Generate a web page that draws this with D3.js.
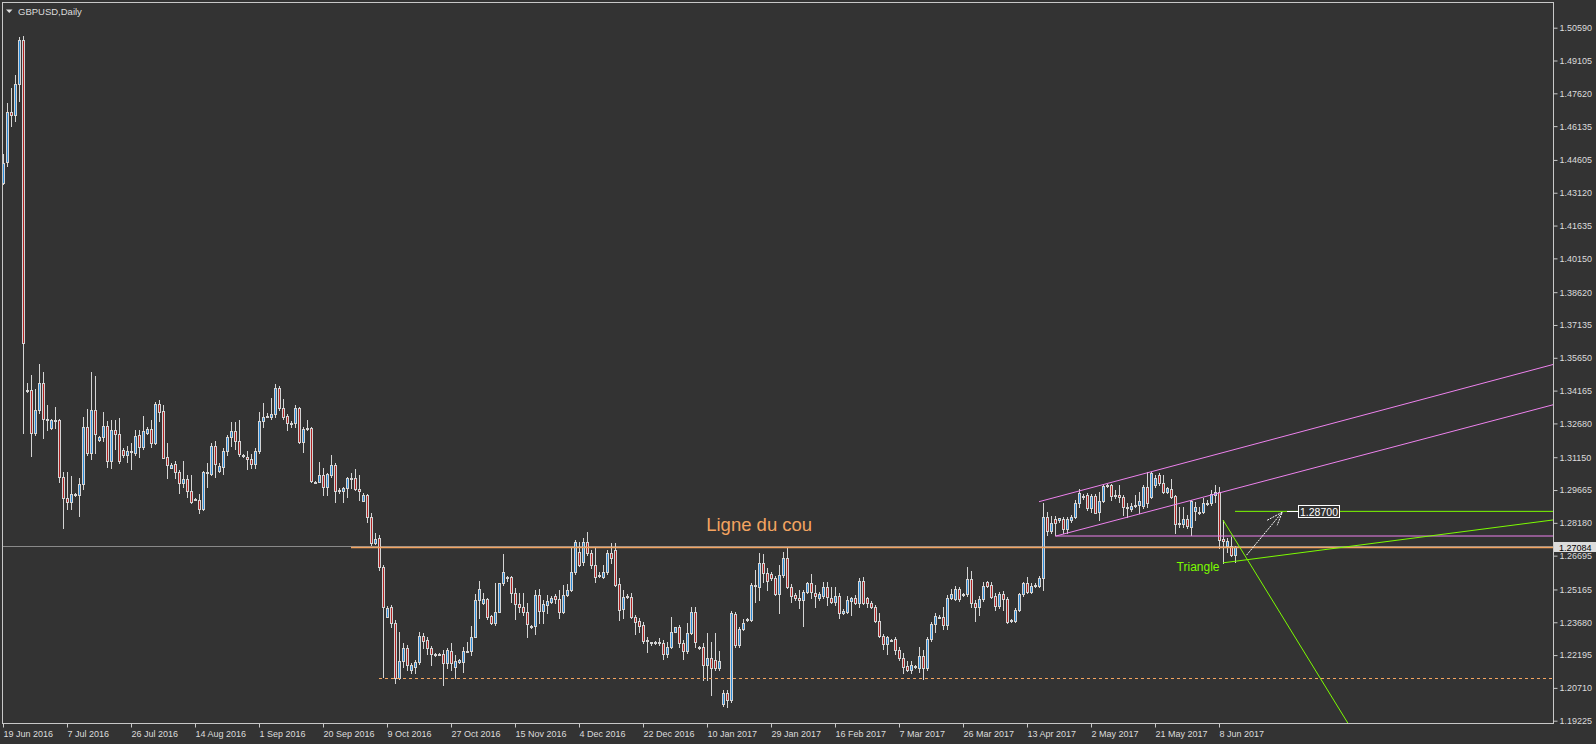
<!DOCTYPE html>
<html><head><meta charset="utf-8">
<script src="https://cdn.jsdelivr.net/npm/d3@7"></script>
<style>html,body{margin:0;padding:0;background:#333333;overflow:hidden}</style>
</head><body>
<svg id="c" width="1596" height="744"></svg>
<script>
// ---- DATA (GBPUSD Daily, one bar per trading day) ----
const opens=[1.4355,1.4450,1.4676,1.4662,1.4803,1.5003,1.3415,1.3419,1.3226,1.3329,
1.3450,1.3290,1.3246,1.3283,1.3283,1.3024,1.2929,1.2914,1.2947,1.2943,
1.2992,1.3252,1.3135,1.3329,1.3193,1.3205,1.3256,1.3099,1.3238,1.3220,
1.3148,1.3127,1.3139,1.3135,1.3216,1.3163,1.3223,1.3243,1.3181,1.3356,
1.3324,1.3115,1.3068,1.3083,1.3047,1.2997,1.3016,1.2961,1.2926,1.2921,
1.2882,1.3047,1.3039,1.3166,1.3054,1.3072,1.3143,1.3205,1.3234,1.3188,
1.3123,1.3115,1.3107,1.3083,1.3143,1.3278,1.3301,1.3298,1.3311,1.3427,
1.3336,1.3302,1.3272,1.3269,1.3336,1.3185,1.3245,1.3246,1.3003,1.3004,
1.3035,1.2982,1.3035,1.3080,1.2965,1.2963,1.2974,1.3019,1.3020,1.2973,
1.2918,1.2944,1.2843,1.2728,1.2748,1.2617,1.2393,1.2436,1.2366,1.2114,
1.2194,1.2250,1.2152,1.2167,1.2187,1.2306,1.2288,1.2250,1.2225,1.2224,
1.2224,1.2182,1.2238,1.2167,1.2187,1.2190,1.2239,1.2239,1.2303,1.2469,
1.2454,1.2473,1.2396,1.2366,1.2416,1.2544,1.2573,1.2574,1.2502,1.2449,
1.2438,1.2416,1.2347,1.2353,1.2491,1.2420,1.2446,1.2460,1.2487,1.2472,
1.2416,1.2491,1.2514,1.2594,1.2685,1.2639,1.2730,1.2680,1.2627,1.2580,
1.2574,1.2594,1.2680,1.2695,1.2540,1.2427,1.2486,1.2484,1.2393,1.2374,
1.2356,1.2284,1.2277,1.2275,1.2277,1.2276,1.2224,1.2258,1.2325,1.2348,
1.2276,1.2239,1.2318,1.2413,1.2256,1.2255,1.2175,1.2205,1.2197,1.2160,
1.2000,1.2048,1.2016,1.2405,1.2265,1.2338,1.2381,1.2378,1.2536,1.2529,
1.2635,1.2590,1.2585,1.2567,1.2495,1.2582,1.2657,1.2529,1.2491,1.2479,
1.2469,1.2506,1.2544,1.2499,1.2476,1.2488,1.2529,1.2479,1.2461,1.2488,
1.2409,1.2416,1.2466,1.2479,1.2457,1.2555,1.2476,1.2454,1.2438,1.2375,
1.2307,1.2268,1.2287,1.2291,1.2242,1.2205,1.2170,1.2152,1.2166,1.2161,
1.2215,1.2161,1.2291,1.2360,1.2392,1.2391,1.2356,1.2476,1.2472,1.2517,
1.2494,1.2494,1.2564,1.2457,1.2438,1.2472,1.2549,1.2537,1.2487,1.2442,
1.2496,1.2473,1.2377,1.2375,1.2424,1.2494,1.2547,1.2506,1.2536,1.2532,
1.2567,1.2844,1.2782,1.2834,1.2831,1.2834,1.2789,1.2831,1.2843,1.2907,
1.2939,1.2944,1.2886,1.2940,1.2868,1.2918,1.2985,1.2989,1.2945,1.2944,
1.2937,1.2889,1.2879,1.2894,1.2899,1.2894,1.2982,1.2937,1.2989,1.3035,
1.3000,1.2959,1.2970,1.2940,1.2815,1.2813,1.2834,1.2801,1.2873,1.2869,
1.2868,1.2906,1.2907,1.2944,1.2959,1.2744,1.2713,1.2713,1.2672];
const highs=[1.4487,1.4717,1.4786,1.4844,1.5017,1.5021,1.3450,1.3487,1.3424,1.3537,
1.3501,1.3351,1.3288,1.3344,1.3288,1.3048,1.3048,1.3030,1.2953,1.3021,
1.3297,1.3335,1.3501,1.3484,1.3211,1.3320,1.3279,1.3283,1.3283,1.3291,
1.3157,1.3166,1.3178,1.3238,1.3238,1.3302,1.3253,1.3283,1.3366,1.3374,
1.3351,1.3178,1.3090,1.3099,1.3057,1.3099,1.3035,1.3035,1.2930,1.2948,
1.3053,1.3090,1.3178,1.3190,1.3088,1.3155,1.3216,1.3276,1.3276,1.3283,
1.3130,1.3145,1.3128,1.3158,1.3321,1.3359,1.3314,1.3382,1.3446,1.3437,
1.3379,1.3311,1.3280,1.3351,1.3344,1.3253,1.3283,1.3253,1.3007,1.3093,
1.3065,1.3042,1.3125,1.3088,1.2974,1.2980,1.3027,1.3042,1.3060,1.3035,
1.2954,1.2948,1.2861,1.2771,1.2763,1.2627,1.2440,1.2446,1.2378,1.2325,
1.2273,1.2265,1.2182,1.2197,1.2325,1.2321,1.2303,1.2261,1.2228,1.2228,
1.2242,1.2250,1.2273,1.2220,1.2202,1.2258,1.2280,1.2351,1.2496,1.2556,
1.2499,1.2476,1.2401,1.2547,1.2547,1.2677,1.2577,1.2577,1.2522,1.2502,
1.2502,1.2454,1.2356,1.2514,1.2517,1.2469,1.2491,1.2488,1.2496,1.2514,
1.2537,1.2541,1.2710,1.2740,1.2733,1.2748,1.2775,1.2695,1.2706,1.2597,
1.2627,1.2695,1.2725,1.2728,1.2567,1.2514,1.2496,1.2499,1.2401,1.2386,
1.2369,1.2303,1.2280,1.2281,1.2295,1.2288,1.2280,1.2393,1.2348,1.2356,
1.2288,1.2363,1.2438,1.2436,1.2261,1.2273,1.2318,1.2280,1.2321,1.2238,
1.2061,1.2061,1.2419,1.2416,1.2347,1.2382,1.2387,1.2544,1.2605,1.2680,
1.2677,1.2612,1.2595,1.2577,1.2627,1.2688,1.2710,1.2541,1.2500,1.2514,
1.2514,1.2552,1.2587,1.2537,1.2505,1.2552,1.2552,1.2529,1.2529,1.2500,
1.2428,1.2487,1.2484,1.2491,1.2567,1.2574,1.2484,1.2466,1.2446,1.2409,
1.2315,1.2306,1.2292,1.2301,1.2258,1.2228,1.2194,1.2194,1.2175,1.2258,
1.2242,1.2301,1.2371,1.2409,1.2401,1.2438,1.2491,1.2517,1.2532,1.2529,
1.2500,1.2617,1.2601,1.2469,1.2487,1.2552,1.2555,1.2552,1.2499,1.2506,
1.2510,1.2483,1.2383,1.2433,1.2499,1.2552,1.2574,1.2544,1.2544,1.2577,
1.2908,1.2868,1.2850,1.2850,1.2840,1.2844,1.2846,1.2853,1.2921,1.2970,
1.2948,1.2953,1.2948,1.2948,1.2959,1.2989,1.2994,1.2994,1.2967,1.2989,
1.2944,1.2907,1.2907,1.2944,1.2959,1.2989,1.3049,1.3049,1.3035,1.3042,
1.3035,1.2980,1.3015,1.2944,1.2888,1.2888,1.2853,1.2921,1.2914,1.2891,
1.2929,1.2921,1.2967,1.2989,1.2982,1.2831,1.2748,1.2755,1.2713];
const lows=[1.4352,1.4434,1.4615,1.4638,1.4729,1.3226,1.3410,1.3121,1.3216,1.3314,
1.3203,1.3238,1.3243,1.3246,1.3002,1.2796,1.2879,1.2882,1.2939,1.2850,
1.2973,1.3125,1.3106,1.3133,1.3188,1.3188,1.3072,1.3065,1.3154,1.3089,
1.3116,1.3095,1.3060,1.3125,1.3117,1.3152,1.3220,1.3163,1.3175,1.3280,
1.3112,1.3022,1.3064,1.3022,1.2954,1.2982,1.2936,1.2908,1.2921,1.2864,
1.2876,1.2979,1.3035,1.3024,1.3049,1.3039,1.3125,1.3166,1.3151,1.3122,
1.3115,1.3060,1.3065,1.3065,1.3133,1.3253,1.3296,1.3287,1.3298,1.3329,
1.3287,1.3238,1.3253,1.3253,1.3179,1.3140,1.3238,1.3003,1.2997,1.3001,
1.2944,1.2944,1.3027,1.2914,1.2954,1.2914,1.2936,1.2974,1.2967,1.2921,
1.2917,1.2820,1.2718,1.2724,1.2605,1.2122,1.2390,1.2345,1.2092,1.2111,
1.2167,1.2152,1.2140,1.2140,1.2179,1.2250,1.2224,1.2175,1.2216,1.2220,
1.2084,1.2160,1.2152,1.2114,1.2183,1.2144,1.2235,1.2220,1.2301,1.2386,
1.2451,1.2382,1.2360,1.2356,1.2414,1.2537,1.2556,1.2461,1.2382,1.2416,
1.2403,1.2303,1.2341,1.2313,1.2363,1.2363,1.2408,1.2455,1.2454,1.2386,
1.2408,1.2487,1.2509,1.2586,1.2623,1.2627,1.2673,1.2612,1.2552,1.2573,
1.2568,1.2586,1.2635,1.2532,1.2378,1.2386,1.2478,1.2387,1.2315,1.2325,
1.2276,1.2235,1.2265,1.2271,1.2265,1.2200,1.2209,1.2251,1.2324,1.2258,
1.2200,1.2227,1.2315,1.2258,1.2247,1.2107,1.2107,1.2038,1.2152,1.2152,
1.1990,1.1986,1.2007,1.2256,1.2256,1.2333,1.2374,1.2374,1.2461,1.2469,
1.2552,1.2514,1.2559,1.2491,1.2411,1.2573,1.2522,1.2461,1.2469,1.2431,
1.2350,1.2500,1.2476,1.2438,1.2469,1.2476,1.2446,1.2455,1.2446,1.2386,
1.2405,1.2408,1.2403,1.2452,1.2438,1.2451,1.2438,1.2431,1.2371,1.2303,
1.2246,1.2224,1.2283,1.2224,1.2197,1.2140,1.2148,1.2140,1.2161,1.2144,
1.2110,1.2152,1.2283,1.2325,1.2387,1.2336,1.2338,1.2473,1.2469,1.2465,
1.2487,1.2487,1.2436,1.2375,1.2403,1.2466,1.2527,1.2478,1.2424,1.2433,
1.2424,1.2365,1.2371,1.2371,1.2419,1.2487,1.2499,1.2500,1.2529,1.2527,
1.2514,1.2763,1.2771,1.2763,1.2822,1.2771,1.2771,1.2822,1.2840,1.2888,
1.2925,1.2876,1.2868,1.2861,1.2831,1.2912,1.2978,1.2921,1.2929,1.2914,
1.2853,1.2846,1.2872,1.2890,1.2864,1.2885,1.2891,1.2929,1.2982,1.2989,
1.2953,1.2952,1.2929,1.2774,1.2801,1.2801,1.2793,1.2763,1.2831,1.2858,
1.2862,1.2899,1.2899,1.2912,1.2703,1.2636,1.2687,1.2670,1.2642];
const closes=[1.4448,1.4676,1.4662,1.4803,1.5003,1.3631,1.3420,1.3226,1.3329,1.3450,
1.3287,1.3285,1.3283,1.3284,1.3024,1.2929,1.2914,1.2947,1.2949,1.2992,
1.3252,1.3135,1.3329,1.3220,1.3205,1.3256,1.3099,1.3238,1.3220,1.3099,
1.3125,1.3143,1.3141,1.3211,1.3163,1.3235,1.3243,1.3181,1.3356,1.3321,
1.3113,1.3078,1.3078,1.3047,1.2997,1.3016,1.2961,1.2911,1.2923,1.2882,
1.3048,1.3049,1.3166,1.3083,1.3075,1.3143,1.3207,1.3234,1.3188,1.3131,
1.3121,1.3106,1.3083,1.3143,1.3278,1.3297,1.3302,1.3311,1.3427,1.3336,
1.3298,1.3271,1.3270,1.3336,1.3185,1.3243,1.3247,1.3009,1.3002,1.3035,
1.2982,1.3039,1.3080,1.2963,1.2967,1.2977,1.3020,1.3021,1.2970,1.2963,
1.2944,1.2843,1.2728,1.2747,1.2617,1.2438,1.2431,1.2363,1.2114,1.2194,
1.2250,1.2175,1.2175,1.2187,1.2306,1.2283,1.2250,1.2224,1.2223,1.2226,
1.2182,1.2243,1.2182,1.2193,1.2197,1.2238,1.2240,1.2303,1.2469,1.2517,
1.2473,1.2393,1.2366,1.2416,1.2544,1.2597,1.2575,1.2502,1.2449,1.2438,
1.2413,1.2359,1.2349,1.2491,1.2420,1.2451,1.2464,1.2476,1.2472,1.2416,
1.2491,1.2514,1.2594,1.2730,1.2627,1.2730,1.2680,1.2627,1.2574,1.2578,
1.2594,1.2680,1.2658,1.2537,1.2424,1.2484,1.2488,1.2393,1.2371,1.2353,
1.2285,1.2286,1.2275,1.2277,1.2275,1.2224,1.2258,1.2325,1.2345,1.2276,
1.2239,1.2318,1.2413,1.2280,1.2254,1.2175,1.2205,1.2160,1.2161,1.2194,
1.2050,1.2016,1.2409,1.2265,1.2338,1.2363,1.2383,1.2537,1.2538,1.2638,
1.2592,1.2555,1.2567,1.2495,1.2582,1.2657,1.2529,1.2487,1.2476,1.2469,
1.2506,1.2544,1.2506,1.2488,1.2496,1.2529,1.2481,1.2461,1.2488,1.2411,
1.2420,1.2469,1.2479,1.2457,1.2555,1.2454,1.2454,1.2438,1.2375,1.2307,
1.2268,1.2300,1.2289,1.2242,1.2205,1.2167,1.2152,1.2175,1.2168,1.2215,
1.2161,1.2291,1.2360,1.2396,1.2394,1.2356,1.2479,1.2496,1.2517,1.2472,
1.2496,1.2564,1.2457,1.2438,1.2472,1.2532,1.2534,1.2484,1.2442,1.2496,
1.2472,1.2371,1.2379,1.2424,1.2494,1.2547,1.2506,1.2532,1.2538,1.2567,
1.2844,1.2782,1.2816,1.2816,1.2838,1.2789,1.2834,1.2846,1.2909,1.2952,
1.2941,1.2887,1.2940,1.2864,1.2918,1.2985,1.2989,1.2940,1.2943,1.2937,
1.2888,1.2887,1.2894,1.2899,1.2918,1.2979,1.2907,1.3042,1.3020,1.2997,
1.2959,1.2974,1.2936,1.2813,1.2817,1.2834,1.2804,1.2918,1.2891,1.2866,
1.2907,1.2908,1.2949,1.2959,1.2740,1.2736,1.2736,1.2672,1.27084];
const dateLabels=["19 Jun 2016","7 Jul 2016","26 Jul 2016","14 Aug 2016","1 Sep 2016","20 Sep 2016",
"9 Oct 2016","27 Oct 2016","15 Nov 2016","4 Dec 2016","22 Dec 2016","10 Jan 2017","29 Jan 2017",
"16 Feb 2017","7 Mar 2017","26 Mar 2017","13 Apr 2017","2 May 2017","21 May 2017","8 Jun 2017"];
const barsPerLabel=16;
const priceTicks=[1.50590,1.49105,1.47620,1.46135,1.44605,1.43120,1.41635,1.40150,1.38620,1.37135,
1.35650,1.34165,1.32680,1.31150,1.29665,1.28180,1.26695,1.25165,1.23680,1.22195,1.20710,1.19225];
const lastPrice=1.27084;
const neckPrice=1.2707;      // "Ligne du cou"
const supportPrice=1.2114;   // dashed orange support
const targetPrice=1.28700;   // target label
// drawn objects: [barIndex, price] end points
const channelUpper=[[259,1.29137],[387.5,1.35346]];
const channelLower=[[263.25,1.27584],[387.5,1.33522]];
const channelBase=[[263,1.27584],[387.5,1.27584]];
const triUpper=[[305,1.2831],[336.2,1.1912]];
const triLower=[[305,1.2637],[387.5,1.2831]];
const targetLine=[[308,targetPrice],[387.5,targetPrice]];
const arrowPts=[[310.9,1.2672],[319.8,1.2866]];

// ---- DRAWING ----
const W=1596,H=744,L=2,R=1553,T=2,B=723;
const FONT='"Liberation Sans", Arial, sans-serif';
const FG='#dcdcdc', BULL='#2a8ad8', BEAR='#b22222', OUT='#d4d4d4';
const svg=d3.select('#c');
svg.append('rect').attr('width',W).attr('height',H).attr('fill','#333333');
const x=d3.scaleLinear().domain([-0.25,387.5]).range([L,R]);
const y=d3.scaleLinear().domain([1.19225,1.50590]).range([720.7,27.7]);
svg.append('defs').append('clipPath').attr('id','plot').append('rect')
  .attr('x',L).attr('y',T).attr('width',R-L).attr('height',B-T);
const plot=svg.append('g').attr('clip-path','url(#plot)');

// bid line
plot.append('line').attr('x1',L).attr('x2',R)
  .attr('y1',Math.round(y(lastPrice))-0.5).attr('y2',Math.round(y(lastPrice))-0.5)
  .attr('stroke','#8a8a8a').attr('stroke-width',1);

// candles
const bars=d3.range(opens.length).map(i=>({i,o:opens[i],h:highs[i],l:lows[i],c:closes[i]}));
const cg=plot.append('g');
cg.selectAll('line.wick').data(bars).join('line').attr('class','wick')
  .attr('x1',d=>x(d.i)+0.5).attr('x2',d=>x(d.i)+0.5)
  .attr('y1',d=>Math.round(y(d.h))).attr('y2',d=>Math.round(y(d.l))+1)
  .attr('stroke',OUT).attr('stroke-width',1);
cg.selectAll('rect.body').data(bars).join('rect').attr('class','body')
  .attr('x',d=>x(d.i)-0.5)
  .attr('y',d=>Math.round(y(Math.max(d.o,d.c)))+0.5)
  .attr('width',2)
  .attr('height',d=>Math.max(1,Math.round(y(Math.min(d.o,d.c)))-Math.round(y(Math.max(d.o,d.c)))))
  .attr('fill',d=>d.c>=d.o?BULL:BEAR).attr('stroke',OUT).attr('stroke-width',1);

// neckline (orange) and support (dashed orange)
const ny=Math.round(y(neckPrice))+0.5;
plot.append('line').attr('x1',x(87)).attr('x2',R).attr('y1',ny).attr('y2',ny)
  .attr('stroke','#f4a460').attr('stroke-width',1.3);
const sy=Math.round(y(supportPrice))+0.5;
plot.append('line').attr('x1',x(94)).attr('x2',R).attr('y1',sy).attr('y2',sy)
  .attr('stroke','#f4a460').attr('stroke-width',1).attr('stroke-dasharray','3,3');

const seg=(pts,col,w)=>plot.append('line')
  .attr('x1',x(pts[0][0])).attr('y1',y(pts[0][1])).attr('x2',x(pts[1][0])).attr('y2',y(pts[1][1]))
  .attr('stroke',col).attr('stroke-width',w||1);
seg(channelUpper,'#ee82ee');
seg(channelLower,'#ee82ee');
seg(channelBase,'#ee82ee');
seg(triUpper,'#7cfc00');
seg(triLower,'#7cfc00');
seg(targetLine,'#7cfc00');

// arrow
const a0=[x(arrowPts[0][0]),y(arrowPts[0][1])], a1=[x(arrowPts[1][0]),y(arrowPts[1][1])];
plot.append('line').attr('x1',a0[0]).attr('y1',a0[1]).attr('x2',a1[0]).attr('y2',a1[1])
  .attr('stroke','#ffffff').attr('stroke-width',1).attr('stroke-dasharray','2,1');
plot.append('path').attr('d',`M${a1[0]-15},${a1[1]+8}L${a1[0]},${a1[1]}L${a1[0]-5},${a1[1]+13}`)
  .attr('fill','none').attr('stroke','#ffffff').attr('stroke-width',1).attr('stroke-dasharray','2,1');

// target label
const ty=Math.round(y(targetPrice))+0.5;
plot.append('line').attr('x1',1287).attr('x2',1298).attr('y1',ty).attr('y2',ty).attr('stroke','#ffffff');
plot.append('rect').attr('x',1298.5).attr('y',ty-6).attr('width',41).attr('height',12)
  .attr('fill','#333333').attr('stroke','#ffffff');
plot.append('text').attr('x',1319).attr('y',ty+4).attr('text-anchor','middle')
  .attr('font-family',FONT).attr('font-size',10.5).attr('fill','#ffffff').text(targetPrice.toFixed(5));

// texts
plot.append('text').attr('x',x(175.8)).attr('y',y(1.2779)).attr('font-family',FONT)
  .attr('font-size',18.5).attr('fill','#f4a460').text('Ligne du cou');
plot.append('text').attr('x',x(293.4)).attr('y',y(1.2598)).attr('font-family',FONT)
  .attr('font-size',12).attr('fill','#7cfc00').text('Triangle');

// frame
svg.append('rect').attr('x',L+0.5).attr('y',T+0.5).attr('width',R-L).attr('height',B-T)
  .attr('fill','none').attr('stroke','#c8c8c8').attr('stroke-width',1);

// price axis
const ya=d3.axisRight(y).tickValues(priceTicks).tickSize(4).tickPadding(2).tickFormat(d=>d.toFixed(5));
const gy=svg.append('g').attr('transform',`translate(${R+0.5},0)`).call(ya);
gy.select('.domain').remove();
gy.selectAll('line').attr('stroke','#c8c8c8');
gy.selectAll('text').attr('fill',FG).attr('font-size',9).attr('font-family',FONT);

// date axis
const ticks=dateLabels.map((_,k)=>k*barsPerLabel);
const xa=d3.axisBottom(x).tickValues(ticks).tickSize(4).tickPadding(3).tickFormat(d=>dateLabels[d/barsPerLabel]);
const gx=svg.append('g').attr('transform',`translate(0,${B+0.5})`).call(xa);
gx.select('.domain').remove();
gx.selectAll('line').attr('stroke','#c8c8c8');
gx.selectAll('text').attr('fill',FG).attr('font-size',9).attr('font-family',FONT)
  .attr('text-anchor','start').attr('x',0);

// current price box
const py=Math.round(y(lastPrice));
svg.append('rect').attr('x',1554).attr('y',py-5).attr('width',42).attr('height',10).attr('fill','#dcdcdc');
svg.append('text').attr('x',1559).attr('y',py+3.5).attr('font-family',FONT).attr('font-size',9)
  .attr('fill','#000000').text(lastPrice.toFixed(5));

// title
svg.append('path').attr('d','M6,9.5L12.5,9.5L9.25,13Z').attr('fill',FG);
svg.append('text').attr('x',18).attr('y',14.5).attr('font-family',FONT).attr('font-size',9.5)
  .attr('fill',FG).text('GBPUSD,Daily');
</script>
</body></html>
